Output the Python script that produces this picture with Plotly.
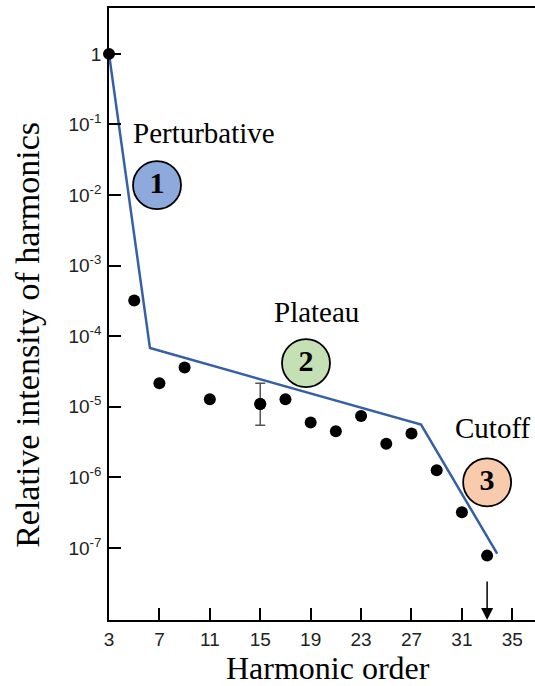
import plotly.graph_objects as go

# Data
harmonic = [3, 5, 7, 9, 11, 15, 17, 19, 21, 23, 25, 27, 29, 31, 33]
intensity = [1.0, 3.2e-4, 2.15e-5, 3.6e-5, 1.28e-5, 1.1e-5, 1.28e-5, 6.0e-6,
             4.5e-6, 7.4e-6, 3.0e-6, 4.2e-6, 1.26e-6, 3.2e-7, 7.8e-8]

err_x = [15]
err_y = [1.1e-5]
err_plus = [1.05e-5]
err_minus = [5.5e-6]

trend_x = [3, 6.25, 27.76, 33.8]
trend_y = [1.0, 6.8e-5, 5.6e-6, 8.3e-8]

region_x = [6.81, 18.63, 33.0]
region_y = [10 ** -1.86, 10 ** -4.38, 10 ** -6.07]
region_num = ["1", "2", "3"]
region_fill = ["#8EA9DB", "#C5E0B4", "#F8CBAD"]

label_text = ["Perturbative", "Plateau", "Cutoff"]
label_x = [10.54, 19.5, 33.5]
label_ylog = [-1.12, -3.66, -5.30]

xticks = [3, 7, 11, 15, 19, 23, 27, 31, 35]
yticks = [1, 1e-1, 1e-2, 1e-3, 1e-4, 1e-5, 1e-6, 1e-7]
yticktext = ["1", "10<sup>-1</sup>", "10<sup>-2</sup>", "10<sup>-3</sup>",
             "10<sup>-4</sup>", "10<sup>-5</sup>", "10<sup>-6</sup>", "10<sup>-7</sup>"]

serif = "Liberation Serif, Times New Roman, serif"
sans = "Liberation Sans, Arial, sans-serif"

fig = go.Figure()

fig.add_trace(go.Scatter(
    x=trend_x, y=trend_y, mode="lines",
    line=dict(color="#3560A8", width=2.5),
    cliponaxis=False, hoverinfo="skip", showlegend=False))

fig.add_trace(go.Scatter(
    x=err_x, y=err_y, mode="markers",
    marker=dict(color="black", size=12),
    error_y=dict(type="data", symmetric=False, array=err_plus,
                 arrayminus=err_minus, color="#555555", thickness=1.5, width=5),
    cliponaxis=False, showlegend=False))

fig.add_trace(go.Scatter(
    x=harmonic, y=intensity, mode="markers",
    marker=dict(color="black", size=12),
    cliponaxis=False, showlegend=False))

fig.add_trace(go.Scatter(
    x=region_x, y=region_y, mode="markers+text",
    marker=dict(size=48, color=region_fill, line=dict(color="black", width=1.8)),
    text=["<b>%s</b>" % n for n in region_num],
    textposition="middle center",
    textfont=dict(family=serif, size=30, color="black"),
    cliponaxis=False, showlegend=False))

annotations = []
for t, lx, ly in zip(label_text, label_x, label_ylog):
    annotations.append(dict(x=lx, y=ly, xref="x", yref="y", text=t,
                            showarrow=False, xanchor="center", yanchor="middle",
                            font=dict(family=serif, size=29, color="black")))

# Arrow marking the cutoff harmonic
annotations.append(dict(x=33, y=-8.02, xref="x", yref="y", text="",
                        showarrow=True, ax=0, ay=-40, arrowhead=2,
                        arrowsize=1.6, arrowwidth=1.5, arrowcolor="black"))

annotations.append(dict(x=-0.19, y=0.466, xref="paper", yref="paper",
                        xanchor="center", yanchor="middle",
                        text="Relative intensity of harmonics", textangle=-90,
                        showarrow=False,
                        font=dict(family=serif, size=34, color="black")))
annotations.append(dict(x=0.514, y=-0.079, xref="paper", yref="paper",
                        xanchor="center", yanchor="middle",
                        text="Harmonic order", showarrow=False,
                        font=dict(family=serif, size=32, color="black")))

fig.update_layout(
    width=535, height=686,
    margin=dict(l=109, r=0, t=8, b=66),
    paper_bgcolor="white", plot_bgcolor="white",
    annotations=annotations,
    showlegend=False,
)

fig.update_xaxes(
    range=[3, 36.8], tickvals=xticks, ticktext=[str(v) for v in xticks],
    ticks="inside", ticklen=12, tickwidth=1.5, tickcolor="black",
    showline=True, linecolor="black", linewidth=1.5, mirror=True,
    showgrid=False, zeroline=False, ticklabelstandoff=1,
    tickfont=dict(family=sans, size=19, color="#222222"))

fig.update_yaxes(
    type="log", range=[-8.02, 0.65], tickvals=yticks, ticktext=yticktext,
    ticks="inside", ticklen=12, tickwidth=1.5, tickcolor="black",
    showline=True, linecolor="black", linewidth=1.5,
    showgrid=False, zeroline=False, ticklabelstandoff=2,
    tickfont=dict(family=sans, size=19, color="#222222"))

fig.write_html("out.html")
